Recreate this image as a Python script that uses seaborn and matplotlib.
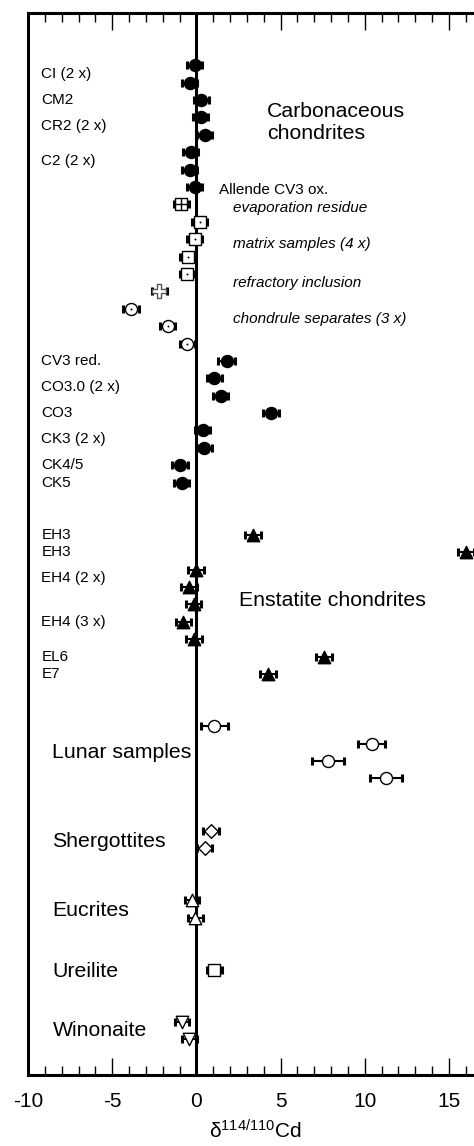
import matplotlib
matplotlib.use("Agg")
import matplotlib.pyplot as plt
from matplotlib.ticker import MultipleLocator
import pandas as pd
import seaborn as sns

# ---- δ114/110Cd data (‰) with 2σ uncertainties ----
carb_bulk_a = [-0.10, -0.40, 0.30, 0.25, 0.50, -0.35, -0.40, -0.10]
carb_bulk_a_err = [0.45, 0.45, 0.45, 0.45, 0.45, 0.45, 0.45, 0.45]
allende_evap = [-0.90]
allende_evap_err = [0.45]
allende_matrix = [0.20, -0.10, -0.50, -0.55]
allende_matrix_err = [0.45, 0.45, 0.45, 0.45]
allende_refractory = [-2.20]
allende_refractory_err = [0.45]
allende_chondrules = [-3.90, -1.70, -0.55]
allende_chondrules_err = [0.48, 0.45, 0.45]
carb_bulk_b = [1.80, 1.06, 1.45, 4.45, 0.38, 0.48, -0.97, -0.87]
carb_bulk_b_err = [0.49, 0.45, 0.45, 0.47, 0.45, 0.45, 0.45, 0.45]
enstatite = [3.35, 16.0, 0.00, -0.45, -0.17, -0.77, -0.15, 7.56, 4.23]
enstatite_err = [0.47, 0.47, 0.47, 0.47, 0.47, 0.47, 0.47, 0.47, 0.47]
lunar = [1.07, 10.40, 7.82, 11.24]
lunar_err = [0.82, 0.80, 0.95, 0.96]
shergottites = [0.87, 0.50]
shergottites_err = [0.45, 0.45]
eucrites = [-0.26, -0.06]
eucrites_err = [0.43, 0.43]
ureilite = [1.07]
ureilite_err = [0.45]
winonaite = [-0.85, -0.42]
winonaite_err = [0.43, 0.43]

sample_labels = ["CI (2 x)", "CM2", "CR2 (2 x)", "C2 (2 x)", "CV3 red.",
                 "CO3.0 (2 x)", "CO3", "CK3 (2 x)", "CK4/5", "CK5",
                 "EH3", "EH3", "EH4 (2 x)", "EH4 (3 x)", "EL6", "E7"]
group_labels = ["Lunar samples", "Shergottites", "Eucrites", "Ureilite", "Winonaite"]
allende_labels = ["evaporation residue", "matrix samples (4 x)",
                  "refractory inclusion", "chondrule separates (3 x)"]

# ---- layout: (name, values, errors, blank rows before, style) ----
W, K = "white", "black"
series = [
    ("carb_a", carb_bulk_a, carb_bulk_a_err, 0, dict(marker="o", s=75, fc=K, ec=K)),
    ("evap", allende_evap, allende_evap_err, 0, dict(marker="s", s=70, fc=W, ec=K, extra="+")),
    ("matrix", allende_matrix, allende_matrix_err, 0, dict(marker="s", s=85, fc=W, ec=K, extra=".")),
    ("refr", allende_refractory, allende_refractory_err, 0, dict(marker="P", s=95, fc=W, ec="#555555")),
    ("chond", allende_chondrules, allende_chondrules_err, 0, dict(marker="o", s=75, fc=W, ec=K, extra=".")),
    ("carb_b", carb_bulk_b, carb_bulk_b_err, 0, dict(marker="o", s=75, fc=K, ec=K)),
    ("enst", enstatite, enstatite_err, 2, dict(marker="^", s=80, fc=K, ec=K)),
    ("lunar", lunar, lunar_err, 2, dict(marker="o", s=75, fc=W, ec=K)),
    ("sherg", shergottites, shergottites_err, 2, dict(marker="D", s=48, fc=W, ec=K)),
    ("eucr", eucrites, eucrites_err, 2, dict(marker="^", s=80, fc=W, ec=K)),
    ("ureil", ureilite, ureilite_err, 2, dict(marker="s", s=75, fc=W, ec=K)),
    ("winon", winonaite, winonaite_err, 2, dict(marker="v", s=80, fc=W, ec=K)),
]

records = []
row = 0
for name, vals, errs, gap, _ in series:
    row += gap
    for v, e in zip(vals, errs):
        records.append({"series": name, "value": v, "err": e, "row": row})
        row += 1
df = pd.DataFrame(records)

# ---- figure ----
sns.set_theme(style="white")
plt.rcParams["font.family"] = ["Liberation Sans", "DejaVu Sans"]
plt.rcParams["mathtext.default"] = "regular"
plt.rcParams["text.color"] = "black"
plt.rcParams["axes.labelcolor"] = "black"
plt.rcParams["axes.unicode_minus"] = False

fig = plt.figure(figsize=(4.74, 11.46), dpi=100)
px_per_unit = 16.84
x_min, x_max = -10, 17
ax = fig.add_axes([28 / 474, 1 - 1075 / 1146,
                   (x_max - x_min) * px_per_unit / 474, (1075 - 13) / 1146])

ax.axvline(0, color="black", lw=2.2, zorder=2)

for name, _, _, _, st in series:
    sub = df[df["series"] == name]
    ax.errorbar(sub["value"], sub["row"], xerr=sub["err"], fmt="none",
                ecolor="black", elinewidth=1.5, capsize=3, capthick=2.2, zorder=3)
    sns.scatterplot(data=sub, x="value", y="row", marker=st["marker"], s=st["s"],
                    color=st["fc"], edgecolor=st["ec"], linewidth=1.0,
                    ax=ax, zorder=4, legend=False)
    if st.get("extra") == ".":
        sns.scatterplot(data=sub, x="value", y="row", marker="o", s=2,
                        color="black", edgecolor="black", linewidth=0,
                        ax=ax, zorder=5, legend=False)
    elif st.get("extra") == "+":
        sns.scatterplot(data=sub, x="value", y="row", marker="+", s=70,
                        color="black", linewidth=1.0, ax=ax, zorder=5, legend=False)

# sample labels on the left
sample_rows = [0.5, 2, 3.5, 5.5, 17, 18.5, 20, 21.5, 23, 24,
               27, 28, 29.5, 32, 34, 35]
for txt, r in zip(sample_labels, sample_rows):
    ax.text(-9.2, r, txt, fontsize=11, va="center", ha="left", color="black")

group_rows = [39.5, 44.6, 48.6, 52.1, 55.5]
for txt, r in zip(group_labels, group_rows):
    ax.text(-8.55, r, txt, fontsize=15.3, va="center", ha="left", color="black")

ax.text(4.2, 3.3, "Carbonaceous\nchondrites", fontsize=15.3, va="center", ha="left",
        linespacing=1.2, color="black")
ax.text(2.55, 30.8, "Enstatite chondrites", fontsize=15.3, va="center", ha="left",
        color="black")
ax.text(1.37, 7.2, "Allende CV3 ox.", fontsize=11, va="center", ha="left",
        color="black")
for txt, r in zip(allende_labels, [8.2, 10.3, 12.5, 14.6]):
    ax.text(2.2, r, txt, fontsize=11, va="center", ha="left", style="italic",
            color="black")

# axes styling
ax.set_xlim(x_min, x_max)
ax.set_ylim(58.05, -3)
ax.set_yticks([])
ax.set_ylabel("")
ax.xaxis.set_major_locator(MultipleLocator(5))
ax.xaxis.set_minor_locator(MultipleLocator(1))
ax.tick_params(axis="x", which="both", direction="in", top=True, bottom=True,
               color="black", labelsize=15, labelcolor="black")
ax.tick_params(axis="x", which="major", length=12, width=1.0, pad=12)
ax.tick_params(axis="x", which="minor", length=6.5, width=1.0)
ax.set_xlabel(r"$\delta^{114/110}$Cd", fontsize=15, labelpad=6, color="black")
for sp in ax.spines.values():
    sp.set_linewidth(2.2)
    sp.set_color("black")
    sp.set_visible(True)

fig.savefig("out.png", dpi=100)
